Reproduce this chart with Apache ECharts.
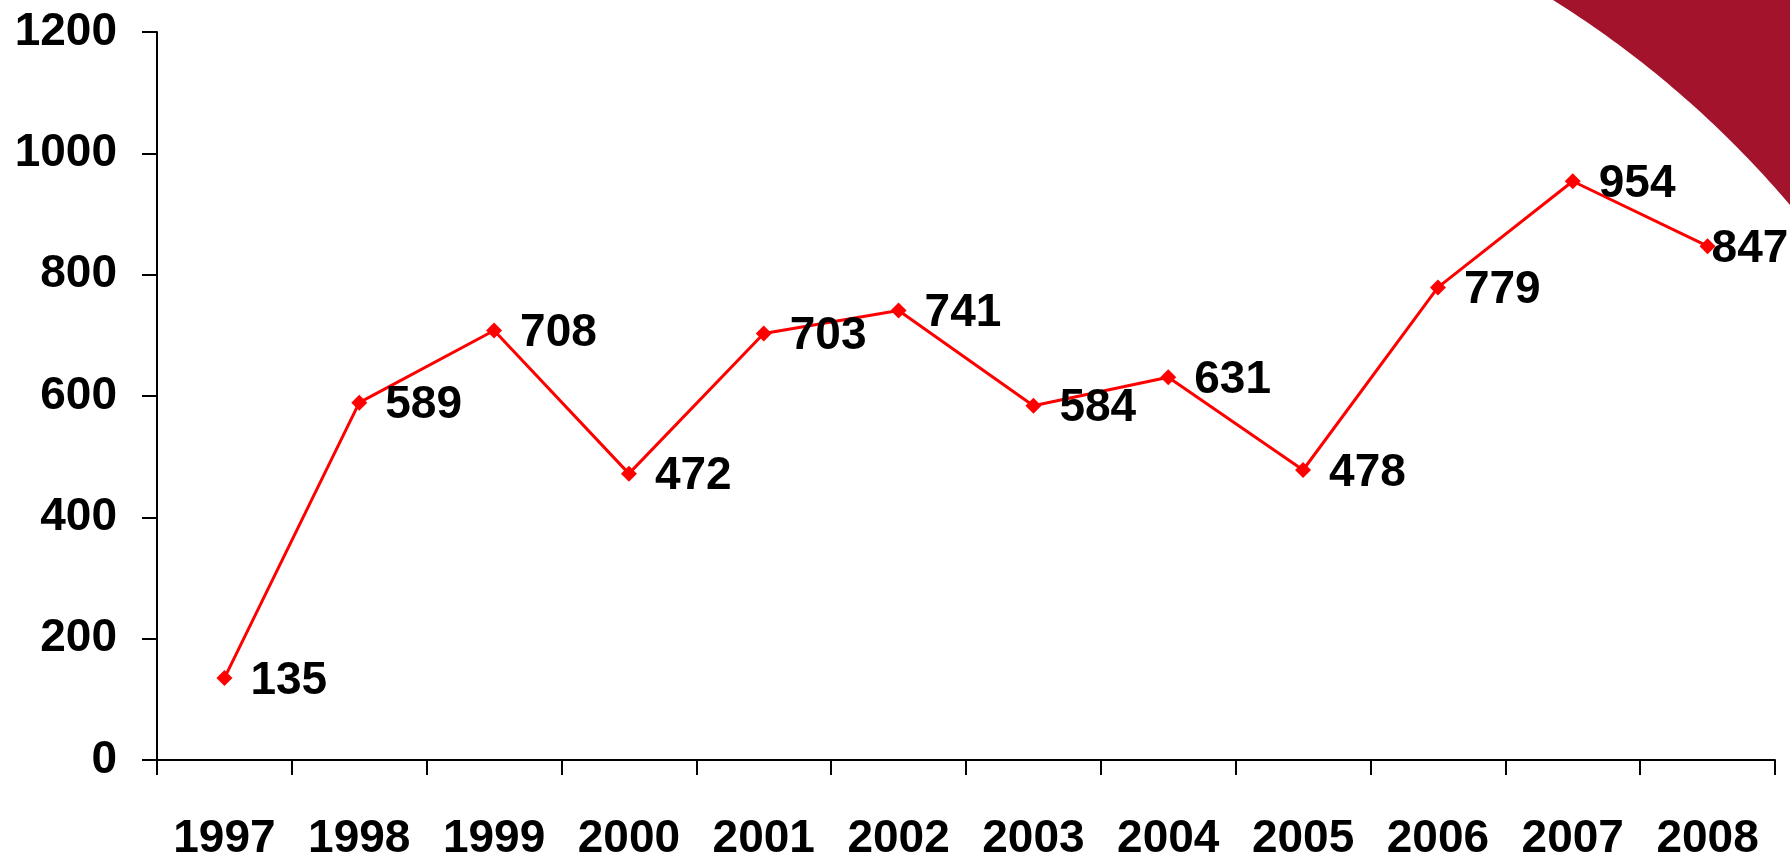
<!DOCTYPE html>
<html>
<head>
<meta charset="utf-8">
<script src="https://cdn.jsdelivr.net/npm/echarts@6/dist/echarts.min.js"></script>
<style>
html,body{margin:0;padding:0;background:#fff;}
#chart{width:1790px;height:857px;}
</style>
</head>
<body>
<div id="chart"></div>
<script>
var years = ['1997','1998','1999','2000','2001','2002','2003','2004','2005','2006','2007','2008'];
var values = [135,589,708,472,703,741,584,631,478,779,954,847];
var yTicks = {min: 0, max: 1200, interval: 200};

var chart = echarts.init(document.getElementById('chart'));
var font = '"Liberation Sans", Arial, sans-serif';

// decorative corner shape (quadratic curve sampled into a polygon)
var cornerPts = [];
(function () {
  var p0 = [1553, 0], c = [1687, 84], p1 = [1790, 205];
  for (var k = 0; k <= 40; k++) {
    var t = k / 40, u = 1 - t;
    cornerPts.push([u * u * p0[0] + 2 * u * t * c[0] + t * t * p1[0],
                    u * u * p0[1] + 2 * u * t * c[1] + t * t * p1[1]]);
  }
  cornerPts.push([1790, 0]);
})();

var seriesData = values.map(function (v, i) {
  var item = {value: v};
  if (i === values.length - 1) {
    item.label = {offset: [-22, 3]};
  }
  return item;
});
chart.setOption({
  backgroundColor: '#ffffff',
  animation: false,
  graphic: [{
    type: 'polygon',
    shape: {points: cornerPts},
    style: {fill: '#A3142C'},
    z: 0
  }],
  grid: {left: 157, top: 32, right: 15, bottom: 97, containLabel: false, outerBoundsMode: 'none'},
  xAxis: {
    type: 'category',
    data: years,
    boundaryGap: true,
    axisLine: {lineStyle: {color: '#000', width: 2}},
    axisTick: {show: true, length: 15, lineStyle: {color: '#000', width: 2}},
    axisLabel: {color: '#000', fontFamily: font, fontWeight: 'bold', fontSize: 46, margin: 56}
  },
  yAxis: {
    type: 'value',
    min: yTicks.min, max: yTicks.max, interval: yTicks.interval,
    splitLine: {show: false},
    axisLine: {show: true, lineStyle: {color: '#000', width: 2}},
    axisTick: {show: true, length: 15, lineStyle: {color: '#000', width: 2}},
    axisLabel: {color: '#000', fontFamily: font, fontWeight: 'bold', fontSize: 46, margin: 40,
      formatter: function (v) { return String(v); }}
  },
  series: [{
    type: 'line',
    data: seriesData,
    z: 5,
    symbol: 'diamond',
    symbolSize: 16,
    itemStyle: {color: '#FF0000'},
    lineStyle: {color: '#FF0000', width: 3},
    label: {
      show: true,
      position: 'right',
      distance: 18,
      offset: [0, 3],
      color: '#000',
      fontFamily: font,
      fontWeight: 'bold',
      fontSize: 46
    }
  }]
});
</script>
</body>
</html>
